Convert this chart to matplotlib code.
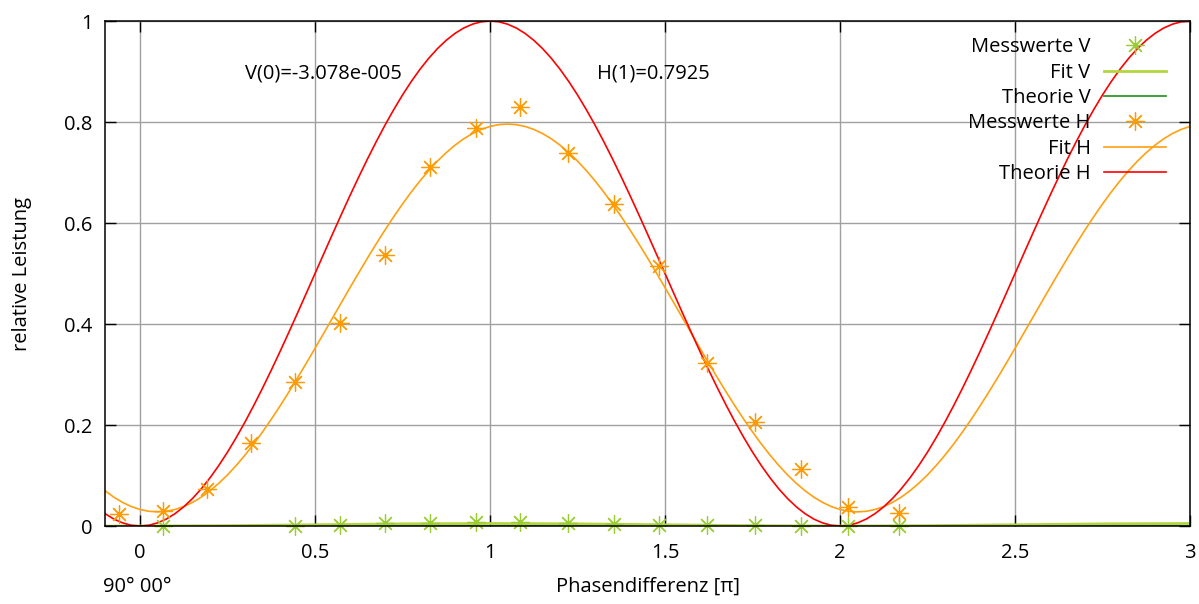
import numpy as np
import matplotlib.pyplot as plt

plt.rcParams["font.family"] = ["Open Sans", "DejaVu Sans"]
plt.rcParams["font.size"] = 14.5

# measured points (phase difference in units of pi, relative power)
phase = [-0.06, 0.066, 0.191, 0.317, 0.443, 0.571, 0.700, 0.829, 0.960,
         1.086, 1.223, 1.354, 1.483, 1.620, 1.757, 1.889, 2.023, 2.169]
mess_h = [0.024, 0.030, 0.073, 0.164, 0.285, 0.403, 0.536, 0.711, 0.788,
          0.830, 0.739, 0.638, 0.515, 0.322, 0.206, 0.113, 0.038, 0.026]
mess_v = [-0.002, 0.0, -0.001, -0.001, 0.001, 0.003, 0.005, 0.006, 0.007,
          0.007, 0.006, 0.004, 0.003, 0.002, 0.002, 0.001, 0.0, 0.0]

x_curve = [round(-0.1 + 0.025 * i, 3) for i in range(125)]
theorie_h = [
    0.0245, 0.0138, 0.0062, 0.0015, 0.0,
    0.0015, 0.0062, 0.0138, 0.0245, 0.0381, 0.0545, 0.0737, 0.0955, 0.1198,
    0.1464, 0.1753, 0.2061, 0.2388, 0.2730, 0.3087, 0.3455, 0.3833, 0.4218,
    0.4608, 0.5, 0.5392, 0.5782, 0.6167, 0.6545, 0.6913, 0.7270, 0.7612,
    0.7939, 0.8247, 0.8536, 0.8802, 0.9045, 0.9263, 0.9455, 0.9619, 0.9755,
    0.9862, 0.9938, 0.9985, 1.0,
    0.9985, 0.9938, 0.9862, 0.9755, 0.9619, 0.9455, 0.9263, 0.9045, 0.8802,
    0.8536, 0.8247, 0.7939, 0.7612, 0.7270, 0.6913, 0.6545, 0.6167, 0.5782,
    0.5392, 0.5, 0.4608, 0.4218, 0.3833, 0.3455, 0.3087, 0.2730, 0.2388,
    0.2061, 0.1753, 0.1464, 0.1198, 0.0955, 0.0737, 0.0545, 0.0381, 0.0245,
    0.0138, 0.0062, 0.0015, 0.0,
    0.0015, 0.0062, 0.0138, 0.0245, 0.0381, 0.0545, 0.0737, 0.0955, 0.1198,
    0.1464, 0.1753, 0.2061, 0.2388, 0.2730, 0.3087, 0.3455, 0.3833, 0.4218,
    0.4608, 0.5, 0.5392, 0.5782, 0.6167, 0.6545, 0.6913, 0.7270, 0.7612,
    0.7939, 0.8247, 0.8536, 0.8802, 0.9045, 0.9263, 0.9455, 0.9619, 0.9755,
    0.9862, 0.9938, 0.9985, 1.0]
fit_h = [
    0.0699, 0.0572, 0.0468, 0.0386, 0.0327, 0.0292, 0.028,
    0.0292, 0.0327, 0.0386, 0.0468, 0.0572, 0.0699, 0.0846, 0.1013, 0.1200,
    0.1405, 0.1626, 0.1863, 0.2114, 0.2377, 0.2651, 0.2933, 0.3224, 0.3519,
    0.3819, 0.412, 0.4421, 0.4721, 0.5016, 0.5307, 0.5590, 0.5863, 0.6126,
    0.6377, 0.6614, 0.6835, 0.7040, 0.7227, 0.7394, 0.7542, 0.7668, 0.7772,
    0.7854, 0.7913, 0.7948, 0.796,
    0.7948, 0.7913, 0.7854, 0.7772, 0.7668, 0.7542, 0.7394, 0.7227, 0.7040,
    0.6835, 0.6614, 0.6377, 0.6126, 0.5863, 0.5590, 0.5307, 0.5016, 0.4721,
    0.4421, 0.412, 0.3819, 0.3519, 0.3224, 0.2933, 0.2651, 0.2377, 0.2114,
    0.1863, 0.1626, 0.1405, 0.1200, 0.1013, 0.0846, 0.0699, 0.0572, 0.0468,
    0.0386, 0.0327, 0.0292, 0.028,
    0.0292, 0.0327, 0.0386, 0.0468, 0.0572, 0.0699, 0.0846, 0.1013, 0.1200,
    0.1405, 0.1626, 0.1863, 0.2114, 0.2377, 0.2651, 0.2933, 0.3224, 0.3519,
    0.3819, 0.412, 0.4421, 0.4721, 0.5016, 0.5307, 0.5590, 0.5863, 0.6126,
    0.6377, 0.6614, 0.6835, 0.7040, 0.7227, 0.7394, 0.7542, 0.7668, 0.7772,
    0.7854, 0.7913]

x_fit_v = [-0.1, 0.0, 0.25, 0.5, 0.75, 1.0, 1.25, 1.5, 1.75, 2.0, 2.25,
           2.5, 2.75, 3.0]
fit_v = [-0.0002, 0.0, 0.0007, 0.0025, 0.0043, 0.005, 0.0043, 0.0025,
         0.0007, 0.0, 0.0007, 0.0025, 0.0043, 0.005]
x_theorie_v = [-0.1, 3.0]
theorie_v = [0.0, 0.0]

xticks = [0, 0.5, 1, 1.5, 2, 2.5, 3]
xtick_labels = ["0", "0.5", "1", "1.5", "2", "2.5", "3"]
yticks = [0, 0.2, 0.4, 0.6, 0.8, 1]
ytick_labels = ["0", "0.2", "0.4", "0.6", "0.8", "1"]

c_v_pts = "#9acd32"
c_v_fit = "#b2d63c"
c_v_theo = "#2e9a2e"
c_h_pts = "#ff9a00"
c_h_fit = "#ffa010"
c_h_theo = "#ff0000"

star = (8, 2, 0)

fig = plt.figure(figsize=(11.99, 6.04), dpi=100)
ax = fig.add_axes([0.0876, 0.1291, 0.9049, 0.8361])

# gnuplot does not draw points outside the range
pv = np.array(phase)
mv = np.array(mess_v)
keep = mv >= 0
ax.plot(pv[keep], mv[keep], linestyle="none", marker=star, ms=13, mew=0.9,
        color=c_v_pts, clip_on=False, zorder=3, label="Messwerte V")
ax.plot(x_fit_v, fit_v, color=c_v_fit, lw=2, zorder=2, label="Fit V")
ax.plot(x_theorie_v, theorie_v, color=c_v_theo, lw=1.3, zorder=1,
        label="Theorie V")
ax.plot(phase, mess_h, linestyle="none", marker=star, ms=13, mew=0.9,
        color=c_h_pts, clip_on=False, zorder=3, label="Messwerte H")
ax.plot(x_curve, fit_h, color=c_h_fit, lw=1.2, zorder=2, label="Fit H")
ax.plot(x_curve, theorie_h, color=c_h_theo, lw=1.2, zorder=2,
        label="Theorie H")

ax.set_xlim(-0.1, 3)
ax.set_ylim(0, 1)
ax.set_xticks(xticks, xtick_labels)
ax.set_yticks(yticks, ytick_labels)
ax.tick_params(direction="in", length=8, width=1, color="black",
               top=True, right=True, labelsize=14.5)
ax.tick_params(axis="x", pad=12)
ax.tick_params(axis="y", pad=9)
ax.grid(True, color="#a0a0a0", lw=1)
ax.set_axisbelow(True)
for s in ax.spines.values():
    s.set_linewidth(1.1)
    s.set_zorder(4)

ax.text(0.30, 0.897, "V(0)=-3.078e-005", va="center", ha="left")
ax.text(1.306, 0.897, "H(1)=0.7925", va="center", ha="left")

ax.set_xlabel("Phasendifferenz [π]", va="center")
ax.xaxis.set_label_coords(0.5, -0.121)
ax.set_ylabel("relative Leistung", va="center")
ax.yaxis.set_label_coords(-0.0765, 0.5)
ax.text(-0.002, -0.121, "90° 00°", transform=ax.transAxes, va="center",
        ha="left")

ax.legend(loc="upper right", bbox_to_anchor=(0.978, 0.968), frameon=False,
          markerfirst=False, handlelength=3.1, handletextpad=0.65,
          borderaxespad=0, borderpad=0, labelspacing=0.27, numpoints=1,
          fontsize=14.5)

fig.savefig("out.png", dpi=100)
